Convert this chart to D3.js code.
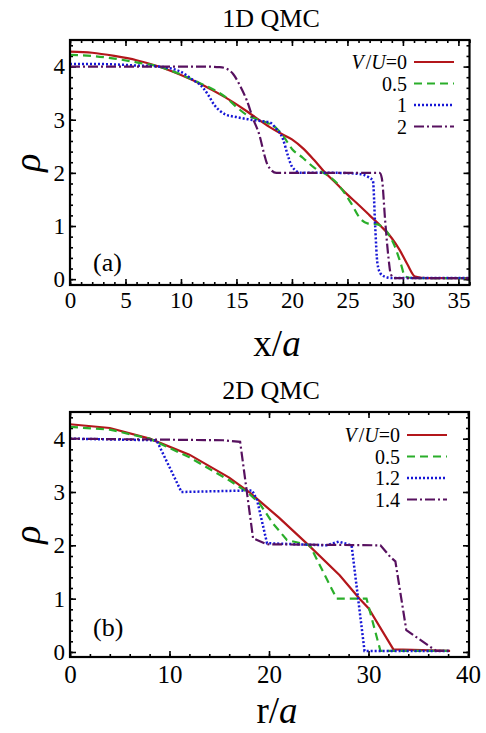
<!DOCTYPE html>
<html>
<head>
<meta charset="utf-8">
<script src="https://cdn.jsdelivr.net/npm/d3@7"></script>
<style>
	body { margin: 0; background: #fff; }
	svg text { font-family: "Liberation Serif", "Times New Roman", "DejaVu Serif", serif; }
</style>
</head>
<body>
<svg id="chart" width="486" height="733"></svg>
<script>

// legend entries
var labels1d = ["0", "0.5", "1", "2"];
var labels2d = ["0", "0.5", "1.2", "1.4"];

// 1D QMC density profiles, [x/a, rho]
var rho1d_v0 = [[0,4.28],[2,4.26],[4,4.2],[6,4.12],[8,4.0],[10,3.84],[12,3.65],[14,3.42],[16,3.15],[17,3.0],[18,2.86],[19,2.74],[20,2.63],[21,2.46],[22,2.24],[23,2.0],[24,1.8],[25,1.59],[26,1.4],[27,1.2],[28,1.0],[29,0.77],[29.7,0.55],[30.4,0.28],[31.1,0.05],[32.2,0.02],[36,0.02]];
var rho1d_v05 = [[0,4.22],[2,4.2],[4,4.15],[6,4.08],[8,4.0],[10,3.85],[12,3.66],[13,3.56],[14,3.43],[15,3.24],[16,3.08],[17,3.0],[18,2.92],[18.6,2.84],[19.2,2.7],[20,2.45],[21,2.28],[22,2.1],[23,1.98],[24,1.82],[24.5,1.69],[25.3,1.44],[26.2,1.13],[26.8,1.05],[27.7,1.03],[28.6,0.88],[29.2,0.65],[29.8,0.3],[30.2,0.05],[31,0.02],[36,0.02]];
var rho1d_v1 = [[0,4.05],[2,4.05],[4,4.04],[6,4.02],[8,4.0],[9,3.97],[10,3.9],[11,3.76],[12,3.6],[12.5,3.45],[13,3.28],[13.5,3.17],[14,3.1],[15,3.05],[16,3.01],[17,2.98],[18,2.95],[18.5,2.85],[19.2,2.63],[19.6,2.35],[20,2.12],[20.8,2.0],[22,2.0],[24,2.0],[26,1.98],[26.9,1.92],[27.3,1.85],[27.5,1.0],[27.7,0.3],[28,0.1],[28.6,0.03],[29,0.02],[36,0.02]];
var rho1d_v2 = [[0,4.0],[4,4.0],[8,4.0],[12,4.0],[13.5,3.99],[14.1,3.96],[14.7,3.86],[15.3,3.65],[15.9,3.38],[16.5,3.02],[17.1,2.69],[17.5,2.35],[17.8,2.15],[18.6,2.0],[20,2.0],[24,2.0],[27,2.0],[27.9,2.0],[28.1,1.9],[28.4,1.1],[28.7,0.4],[28.9,0.1],[29.2,0.02],[36,0.02]];

// 2D QMC density profiles, [r/a, rho]
var rho2d_v0 = [[0,4.27],[4,4.2],[8,4.0],[12,3.7],[16,3.27],[18,3.0],[21,2.52],[24,2.0],[27.1,1.44],[29.1,1.0],[30,0.82],[32.5,0.05],[38.2,0.02]];
var rho2d_v05 = [[0,4.22],[4,4.17],[8,4.0],[12,3.65],[16,3.22],[17.8,3.0],[19,2.8],[20.4,2.41],[21.8,2.1],[24.1,2.0],[26.8,1.0],[29.8,1.0],[31.2,0.02],[38.2,0.02]];
var rho2d_v12 = [[0,4.0],[8.7,3.97],[11.2,3.0],[18.3,3.03],[18.8,2.85],[19.8,2.04],[25.8,2.0],[27,2.07],[28.3,2.0],[29.6,0.02],[38.2,0.02]];
var rho2d_v14 = [[0,4.0],[15.4,3.97],[17.1,3.94],[18.4,2.13],[19.8,2.02],[31.2,2.0],[32.2,1.78],[32.7,1.7],[33.8,0.41],[36.8,0.02],[38.2,0.02]];

var lineStyles = [
	{ color: "#b3161b", dash: null, width: 2.2 },
	{ color: "#2aae2a", dash: "8,5", width: 2.2 },
	{ color: "#1616d6", dash: "2,2", width: 2.5 },
	{ color: "#57115f", dash: "10,3,2,3", width: 2.2 }
];

var serif = "'Liberation Serif', 'Times New Roman', serif";
var svg = d3.select("#chart");

function drawPanel(p) {

	var x = d3.scaleLinear().domain(p.xDomain).range([70, p.right]);
	var y = d3.scaleLinear().domain(p.yDomain).range([p.bottom, p.top]);

	var g = svg.append("g");

	// minor ticks, all four sides
	var minorX = d3.range(0, p.xDomain[1] + 0.01, p.xMinor);
	var minorY = d3.range(0, 4.51, 0.2);
	g.append("g").attr("transform", "translate(0," + p.bottom + ")")
		.call(d3.axisBottom(x).tickValues(minorX).tickSize(-3).tickFormat(""));
	g.append("g").attr("transform", "translate(0," + p.top + ")")
		.call(d3.axisTop(x).tickValues(minorX).tickSize(-3).tickFormat(""));
	g.append("g").attr("transform", "translate(70,0)")
		.call(d3.axisLeft(y).tickValues(minorY).tickSize(-3).tickFormat(""));
	g.append("g").attr("transform", "translate(" + p.right + ",0)")
		.call(d3.axisRight(y).tickValues(minorY).tickSize(-3).tickFormat(""));

	// major ticks
	g.append("g").attr("class", "xax").attr("transform", "translate(0," + p.bottom + ")")
		.call(d3.axisBottom(x).tickValues(p.xTicks).tickSize(-6).tickPadding(p.xPad).tickFormat(d3.format("d")));
	g.append("g").attr("transform", "translate(0," + p.top + ")")
		.call(d3.axisTop(x).tickValues(p.xTicks).tickSize(-6).tickFormat(""));
	g.append("g").attr("class", "yax").attr("transform", "translate(70,0)")
		.call(d3.axisLeft(y).tickValues([0, 1, 2, 3, 4]).tickSize(-6).tickPadding(5).tickFormat(d3.format("d")));
	g.append("g").attr("transform", "translate(" + p.right + ",0)")
		.call(d3.axisRight(y).tickValues([0, 1, 2, 3, 4]).tickSize(-6).tickFormat(""));

	g.selectAll(".domain").remove();
	g.selectAll(".tick line").attr("stroke", "#000").attr("stroke-width", 1.6);
	g.selectAll(".xax, .yax").attr("font-family", serif);
	g.selectAll(".xax text").attr("font-size", p.xFont).attr("fill", "#000");
	g.selectAll(".yax text").attr("font-size", 23).attr("fill", "#000");

	// curves
	var line = d3.line()
		.x(function(d) { return x(d[0]); })
		.y(function(d) { return y(d[1]); })
		.curve(p.smooth ? d3.curveMonotoneX : d3.curveLinear);

	var clipId = "clip" + p.id;
	svg.append("clipPath").attr("id", clipId).append("rect")
		.attr("x", 70).attr("y", p.top).attr("width", p.right - 70).attr("height", p.bottom - p.top);

	g.append("g").attr("clip-path", "url(#" + clipId + ")")
		.selectAll("path")
		.data(p.series)
		.enter().append("path")
		.attr("d", line)
		.attr("fill", "none")
		.attr("stroke", function(d, i) { return lineStyles[i].color; })
		.attr("stroke-width", function(d, i) { return lineStyles[i].width; })
		.attr("stroke-dasharray", function(d, i) { return lineStyles[i].dash; });

	// frame
	g.append("rect")
		.attr("x", 70).attr("y", p.top)
		.attr("width", p.right - 70).attr("height", p.bottom - p.top)
		.attr("fill", "none").attr("stroke", "#000").attr("stroke-width", 2.2);

	// title
	g.append("text")
		.attr("x", 271).attr("y", p.top - 13)
		.attr("text-anchor", "middle").attr("font-size", 26)
		.text(p.title);

	// legend
	var leg = g.append("g");
	p.labels.forEach(function(lab, i) {
		var ly = p.legY + i * 21.5;
		var t = leg.append("text")
			.attr("x", p.legX).attr("y", ly + 7)
			.attr("text-anchor", "end").attr("font-size", 20);
		if (i === 0) {
			t.append("tspan").attr("font-style", "italic").text("V");
			t.append("tspan").attr("dx", 2).text("/");
			t.append("tspan").attr("font-style", "italic").text("U");
			t.append("tspan").text("=" + lab);
		} else {
			t.text(lab);
		}
		leg.append("line")
			.attr("x1", p.legX + 7).attr("x2", p.legX + 47)
			.attr("y1", ly).attr("y2", ly)
			.attr("stroke", lineStyles[i].color)
			.attr("stroke-width", lineStyles[i].width)
			.attr("stroke-dasharray", lineStyles[i].dash);
	});

	// panel tag
	g.append("text")
		.attr("x", 93).attr("y", p.tagY)
		.attr("font-size", 26)
		.text(p.tag);

	// axis labels
	var xl = g.append("text")
		.attr("x", 277).attr("y", p.xLabelY)
		.attr("text-anchor", "middle").attr("font-size", 37);
	xl.append("tspan").text(p.xVar + "/");
	xl.append("tspan").attr("font-style", "italic").text("a");

	g.append("text")
		.attr("transform", "translate(40," + ((p.top + p.bottom) / 2) + ") rotate(-90)")
		.attr("text-anchor", "middle")
		.attr("font-size", 38).attr("font-style", "italic")
		.text("\u03c1");
}

drawPanel({
	id: "a", title: "1D QMC", tag: "(a)", xVar: "x",
	xDomain: [0, 36], xTicks: [0, 5, 10, 15, 20, 25, 30, 35], xMinor: 1,
	yDomain: [-0.11, 4.5], top: 40, bottom: 285, right: 469.5,
	xPad: 7, xFont: 23, xLabelY: 356, smooth: true,
	legX: 407, legY: 62, tagY: 271,
	labels: labels1d, series: [rho1d_v0, rho1d_v05, rho1d_v1, rho1d_v2]
});

drawPanel({
	id: "b", title: "2D QMC", tag: "(b)", xVar: "r",
	xDomain: [0, 40.1], xTicks: [0, 10, 20, 30, 40], xMinor: 2,
	yDomain: [-0.094, 4.5], top: 412, bottom: 657, right: 469,
	xPad: 8, xFont: 25, xLabelY: 723, smooth: false,
	legX: 400, legY: 435, tagY: 636,
	labels: labels2d, series: [rho2d_v0, rho2d_v05, rho2d_v12, rho2d_v14]
});

</script>
</body>
</html>
